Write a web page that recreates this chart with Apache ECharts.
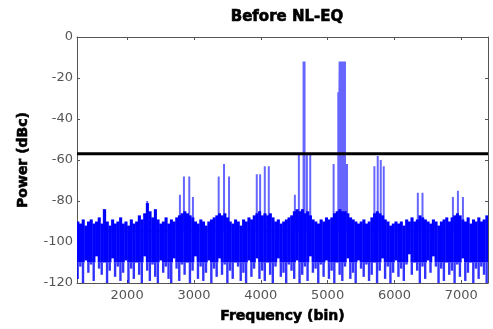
<!DOCTYPE html>
<html>
<head>
<meta charset="utf-8">
<script src="https://cdn.jsdelivr.net/npm/echarts@6.0.0/dist/echarts.min.js"></script>
<style>
  html, body {margin: 0; padding: 0; background: #fff;}
  #chart {width: 493px; height: 329px;}
</style>
</head>
<body>
<div id="chart"></div>
<script>
// frequency axis
const xMin = 1250;
const xMax = 7400;
const xTicks = [2000, 3000, 4000, 5000, 6000, 7000];

// noise floor, sampled every 40 bins from 1260 (top / bottom of the band, dBc)
const noiseStart = 1260;
const noiseStep = 40;
const noiseTop = [
  -90, -91, -89, -92, -90, -89, -91, -90, -88, -91,
  -84, -90, -92, -89, -91, -90, -88, -91, -90, -92,
  -89, -91, -90, -87, -89, -86, -81, -85, -88, -84,
  -89, -91, -90, -88, -91, -89, -90, -88, -87, -86,
  -85, -86, -87, -88, -90, -91, -89, -90, -92, -90,
  -89, -88, -87, -86, -87, -86, -88, -90, -91, -89,
  -90, -92, -89, -90, -88, -89, -87, -86, -85, -87,
  -86, -87, -86, -88, -90, -89, -91, -90, -89, -88,
  -87, -85, -84, -85, -84, -86, -85, -87, -89, -90,
  -91, -89, -90, -88, -89, -88, -86, -85, -84, -85,
  -85, -86, -88, -89, -90, -91, -90, -89, -91, -90,
  -88, -86, -85, -86, -87, -89, -90, -92, -91, -90,
  -91, -90, -92, -89, -90, -88, -90, -89, -87, -88,
  -89, -90, -91, -89, -90, -92, -90, -89, -88, -90,
  -88, -87, -86, -87, -89, -90, -88, -91, -89, -90,
  -88, -90, -89, -87
];
const noiseBottom = [
  -118, -112, -120, -109, -115, -111, -119, -107, -113, -116,
  -110, -120, -114, -108, -117, -112, -119, -115, -109, -120,
  -113, -118, -110, -116, -120, -107, -114, -119, -111, -117,
  -120, -109, -115, -112, -118, -120, -108, -113, -119, -111,
  -116, -110, -120, -114, -107, -118, -112, -119, -115, -109,
  -120, -113, -117, -108, -116, -111, -120, -114, -118, -110,
  -112, -119, -115, -120, -109, -117, -113, -108, -118, -114,
  -119, -110, -116, -120, -112, -108, -117, -115, -120, -111,
  -114, -118, -109, -120, -116, -112, -119, -107, -115, -113,
  -120, -111, -117, -109, -118, -114, -120, -110, -116, -119,
  -112, -108, -118, -115, -120, -109, -113, -117, -111, -119,
  -116, -110, -120, -114, -108, -118, -112, -120, -115, -109,
  -117, -113, -119, -111, -106, -116, -110, -114, -120, -112,
  -118, -109, -115, -107, -112, -120, -113, -119, -110, -116,
  -114, -120, -111, -117, -108, -119, -115, -110, -120, -113,
  -118, -112, -116, -120
];
// below this level the noise band is drawn a little lighter
const noiseCore = -110;

// tones and spurs (bin, peak dBc)
const toneBins = [
  1650, 2300, 2790, 2850, 2930, 2985, 3370, 3450, 3525,
  3940, 3990, 4060, 4120, 4510, 4570, 4640, 4655, 4690, 4740,
  5090, 5160, 5180, 5200, 5220, 5240, 5260, 5290,
  5700, 5750, 5795, 5840, 6350, 6420, 6875, 6950, 7025
];
const tonePeaks = [
  -84, -80, -77, -68, -68, -78, -68, -62, -68,
  -67, -67, -63, -63, -77, -57, -12, -12, -57, -57,
  -62, -27, -12, -12, -12, -12, -12, -62,
  -63, -58, -60, -63, -76, -76, -78, -75, -78
];
const toneBase = -95;

// threshold line
const threshold = -57;

const noiseData = noiseTop.map((v, i) => [noiseStart + i * noiseStep, v, noiseBottom[i]]);

const toneData = [];
toneBins.forEach((b, i) => {
  toneData.push([b, toneBase], [b, tonePeaks[i]], [b, toneBase]);
});

const chart = echarts.init(document.getElementById('chart'), null, {renderer: 'canvas'});

const frameColor = '#555';
const labelStyle = {color: '#555', fontFamily: 'DejaVu Sans', fontSize: 13};
const nameStyle = {color: '#000', fontFamily: 'DejaVu Sans', fontWeight: 'bold', fontSize: 14,
  textBorderColor: '#000', textBorderWidth: 0.6};

chart.setOption({
  animation: false,
  title: {
    text: 'Before NL-EQ',
    left: 282,
    textAlign: 'center',
    top: 5,
    textStyle: {color: '#000', fontFamily: 'DejaVu Sans', fontWeight: 'bold', fontSize: 15,
      textBorderColor: '#000', textBorderWidth: 0.6}
  },
  grid: {left: 77, right: 5, top: 37, bottom: 46},
  xAxis: [{
    type: 'value',
    min: xMin,
    max: xMax,
    name: 'Frequency (bin)',
    nameLocation: 'middle',
    nameGap: 26,
    nameTextStyle: nameStyle,
    axisLine: {show: true, onZero: false, lineStyle: {color: frameColor, width: 1}},
    axisTick: {show: true, inside: true, length: 3, customValues: xTicks, lineStyle: {color: frameColor}},
    axisLabel: {customValues: xTicks, margin: 6, formatter: v => String(v), ...labelStyle},
    splitLine: {show: false}
  }, {
    type: 'value',
    position: 'top',
    min: xMin,
    max: xMax,
    axisLine: {show: true, onZero: false, lineStyle: {color: frameColor, width: 1}},
    axisTick: {show: true, inside: true, length: 3, customValues: xTicks, lineStyle: {color: frameColor}},
    axisLabel: {show: false},
    splitLine: {show: false}
  }],
  yAxis: [{
    type: 'value',
    min: -120,
    max: 0,
    interval: 20,
    name: 'Power (dBc)',
    nameLocation: 'middle',
    nameGap: 47,
    nameTextStyle: nameStyle,
    axisLine: {show: true, onZero: false, lineStyle: {color: frameColor, width: 1}},
    axisTick: {show: true, inside: true, length: 3, lineStyle: {color: frameColor}},
    axisLabel: {margin: 4, ...labelStyle},
    splitLine: {show: false}
  }, {
    type: 'value',
    position: 'right',
    min: -120,
    max: 0,
    interval: 20,
    axisLine: {show: true, onZero: false, lineStyle: {color: frameColor, width: 1}},
    axisTick: {show: true, inside: true, length: 3, lineStyle: {color: frameColor}},
    axisLabel: {show: false},
    splitLine: {show: false}
  }],
  series: [{
    type: 'line',
    data: toneData,
    symbol: 'none',
    silent: true,
    z: 2,
    lineStyle: {color: 'rgba(0,0,255,0.6)', width: 2}
  }, {
    type: 'custom',
    data: noiseData,
    silent: true,
    clip: true,
    z: 3,
    renderItem: (params, api) => {
      const x = api.value(0);
      const top = api.coord([x, api.value(1)]);
      const bot = api.coord([x, api.value(2)]);
      const core = api.coord([x, Math.max(api.value(2), noiseCore)]);
      const w = api.size([noiseStep, 0])[0];
      return {
        type: 'group',
        children: [{
          type: 'rect',
          shape: {x: top[0] - w / 2, y: top[1], width: w + 0.4, height: core[1] - top[1]},
          style: {fill: '#0000ff'}
        }, {
          type: 'rect',
          shape: {x: top[0] - w * 0.45, y: core[1], width: w * 0.9, height: bot[1] - core[1]},
          style: {fill: 'rgba(0,0,255,0.8)'}
        }]
      };
    }
  }, {
    type: 'line',
    data: [[xMin, threshold], [xMax, threshold]],
    symbol: 'none',
    silent: true,
    z: 4,
    lineStyle: {color: '#000', width: 3}
  }]
});
</script>
</body>
</html>
